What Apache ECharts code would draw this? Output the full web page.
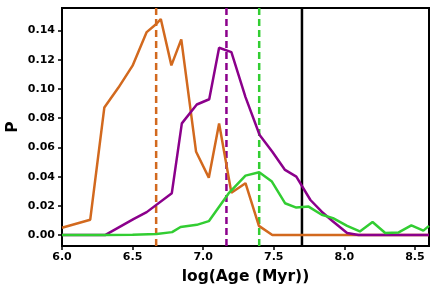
<!DOCTYPE html>
<html><head><meta charset="utf-8">
<script src="https://cdn.jsdelivr.net/npm/echarts@6/dist/echarts.min.js"></script>
<style>html,body{margin:0;padding:0;background:#fff}#c{width:437px;height:292px}</style>
</head><body><div id="c"></div>
<script>
const orangeX = [6.0, 6.2, 6.3, 6.4, 6.5, 6.6, 6.67, 6.7, 6.775, 6.845, 6.95, 7.04, 7.113, 7.2, 7.3, 7.395, 7.49, 7.6, 7.8, 8.0, 8.2, 8.4, 8.6];
const orangeY = [0.005, 0.0105, 0.0874, 0.101, 0.116, 0.139, 0.1447, 0.148, 0.1162, 0.134, 0.057, 0.0393, 0.0764, 0.029, 0.0355, 0.0063, 0, 0, 0, 0, 0, 0, 0];
const purpleX = [6.0, 6.305, 6.506, 6.6, 6.778, 6.849, 6.955, 7.043, 7.113, 7.2, 7.3, 7.4, 7.49, 7.58, 7.66, 7.76, 7.84, 7.92, 8.02, 8.1, 8.3, 8.6];
const purpleY = [0, 0, 0.0109, 0.0157, 0.0287, 0.0765, 0.0894, 0.093, 0.1283, 0.1253, 0.0945, 0.0685, 0.057, 0.0446, 0.040, 0.024, 0.016, 0.0093, 0.0014, 0, 0, 0];
const greenX = [6.0, 6.3, 6.5, 6.67, 6.78, 6.84, 6.955, 7.04, 7.18, 7.3, 7.397, 7.487, 7.58, 7.66, 7.747, 7.84, 7.92, 8.02, 8.11, 8.2, 8.29, 8.385, 8.475, 8.56, 8.6];
const greenY = [0, 0, 0.0002, 0.0007, 0.002, 0.0055, 0.007, 0.0095, 0.0285, 0.0407, 0.043, 0.0366, 0.0218, 0.0188, 0.0195, 0.0139, 0.0116, 0.0063, 0.0025, 0.0089, 0.0014, 0.0018, 0.0066, 0.003, 0.0063];
const vlineX = [6.667, 7.165, 7.397, 7.70];
const vlineNames = ['orange', 'purple', 'green', 'black'];
const xTicks = [6.0, 6.5, 7.0, 7.5, 8.0, 8.5];
const yTicks = [0.00, 0.02, 0.04, 0.06, 0.08, 0.10, 0.12, 0.14];

const colors = {orange: '#d2691e', purple: '#8b008b', green: '#32cd32', black: '#000000'};
const zip = (xs, ys) => xs.map((x, i) => [x, ys[i]]);
const font = 'DejaVu Sans';

const vlineSeries = vlineX.map((x, i) => ({
  type: 'line', symbol: 'none', silent: true, z: 1,
  data: [[x, -0.0075], [x, 0.1555]],
  lineStyle: {color: colors[vlineNames[i]], width: 2.5, type: vlineNames[i] === 'black' ? 'solid' : [7, 4]}
}));

const chart = echarts.init(document.getElementById('c'), null, {renderer: 'canvas'});
chart.setOption({
  animation: false,
  grid: {left: 62, right: 8, top: 8, bottom: 46, show: true, borderColor: '#000', borderWidth: 2, backgroundColor: 'transparent', containLabel: false, outerBoundsMode: 'none'},
  xAxis: {
    type: 'value', min: 6.0, max: 8.6,
    name: 'log(Age (Myr))', nameLocation: 'middle', nameGap: 23, nameMoveOverlap: false,
    nameTextStyle: {fontFamily: font, fontWeight: 'bold', fontSize: 15.5, color: '#000'},
    axisLine: {show: true, onZero: false, lineStyle: {color: '#000', width: 2}},
    axisTick: {show: true, length: 4, lineStyle: {color: '#000', width: 1.5}, customValues: xTicks},
    axisLabel: {fontFamily: font, fontWeight: 'bold', fontSize: 11, color: '#000', margin: 6, customValues: xTicks, formatter: v => v.toFixed(1)},
    splitLine: {show: false}
  },
  yAxis: {
    type: 'value', min: -0.0075, max: 0.1555,
    name: 'P', nameLocation: 'middle', nameGap: 41, nameRotate: 90, nameMoveOverlap: false,
    nameTextStyle: {fontFamily: font, fontWeight: 'bold', fontSize: 15.5, color: '#000'},
    axisLine: {show: true, onZero: false, lineStyle: {color: '#000', width: 2}},
    axisTick: {show: true, length: 4, lineStyle: {color: '#000', width: 1.5}, customValues: yTicks},
    axisLabel: {fontFamily: font, fontWeight: 'bold', fontSize: 11, color: '#000', margin: 7, customValues: yTicks, formatter: v => v.toFixed(2)},
    splitLine: {show: false}
  },
  series: [
    {type: 'line', symbol: 'none', data: zip(orangeX, orangeY), lineStyle: {color: colors.orange, width: 2.5}, z: 3},
    {type: 'line', symbol: 'none', data: zip(purpleX, purpleY), lineStyle: {color: colors.purple, width: 2.5}, z: 3},
    {type: 'line', symbol: 'none', data: zip(greenX, greenY), lineStyle: {color: colors.green, width: 2.5}, z: 3}
  ].concat(vlineSeries)
});
</script></body></html>
